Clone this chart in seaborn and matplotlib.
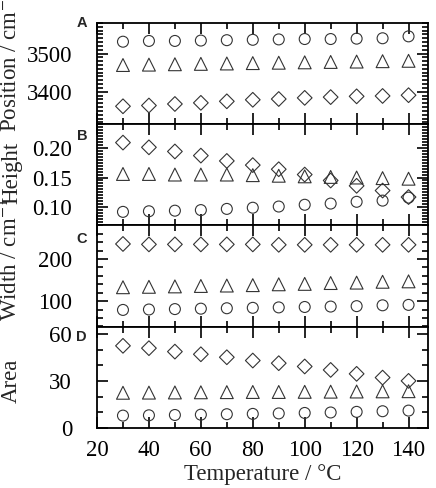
import numpy as np
import pandas as pd
import matplotlib
matplotlib.use("Agg")
import matplotlib.pyplot as plt
import seaborn as sns
from matplotlib.ticker import MultipleLocator

sns.set_theme(style="ticks")
plt.rcParams['font.family'] = ['Liberation Serif', 'DejaVu Serif']
plt.rcParams['mathtext.fontset'] = 'stix'

temperature = [30, 40, 50, 60, 70, 80, 90, 100, 110, 120, 130, 140]

pos_circle = [3531, 3533, 3533, 3534, 3535, 3536, 3537, 3538, 3538, 3539, 3540, 3545]
pos_triangle = [3470, 3471, 3472, 3473, 3474, 3475, 3476, 3477, 3478, 3479, 3480, 3481]
pos_diamond = [3362, 3364, 3368, 3371, 3375, 3379, 3381, 3384, 3386, 3388, 3389, 3391]

height_circle = [0.092, 0.093, 0.094, 0.095, 0.097, 0.099, 0.101, 0.104, 0.106, 0.109, 0.111, 0.116]
height_triangle = [0.156, 0.156, 0.155, 0.155, 0.155, 0.154, 0.153, 0.152, 0.151, 0.150, 0.149, 0.148]
height_diamond = [0.209, 0.201, 0.194, 0.187, 0.178, 0.171, 0.164, 0.155, 0.145, 0.136, 0.128, 0.117]

width_circle = [79, 80, 81, 82, 83, 84, 85, 86, 87, 88, 90, 91]
width_triangle = [133, 134, 135, 136, 137, 138, 140, 141, 143, 144, 146, 147]
width_diamond = [236, 235, 235, 235, 235, 235, 234, 234, 234, 234, 234, 234]

area_circle = [7.9, 8.1, 8.3, 8.5, 8.8, 9.0, 9.3, 9.6, 9.9, 10.3, 10.7, 11.1]
area_triangle = [22.5, 22.6, 22.7, 22.8, 22.9, 23.0, 23.0, 23.1, 23.2, 23.3, 23.4, 23.5]
area_diamond = [52.5, 51.0, 48.8, 47.1, 45.2, 43.1, 41.4, 39.3, 37.1, 34.6, 32.2, 30.1]

panel_letters = ["A", "B", "C", "D"]
y_labels = ["Position / cm$^{-1}$", "Height", "Width / cm$^{-1}$", "Area"]

panels = [
    (pos_circle, pos_triangle, pos_diamond),
    (height_circle, height_triangle, height_diamond),
    (width_circle, width_triangle, width_diamond),
    (area_circle, area_triangle, area_diamond),
]
ylims = [(3315, 3580), (0.069, 0.240), (39, 280), (0, 64.7)]
majors = [100, 0.05, 100, 30]
minors = [10, 0.005, 20, 10]
letter_y = [1.0, 0.88, 0.87, 0.90]
label_y = [0.62, 0.52, 0.66, 0.47]

FS = 16.5

fig, axes = plt.subplots(4, 1, figsize=(4.36, 4.88), dpi=100, sharex=True)
fig.subplots_adjust(left=0.2225, right=0.9817, top=0.9529, bottom=0.123, hspace=0)

for i, ax in enumerate(axes):
    c, t, d = panels[i]
    df = pd.DataFrame({"T": temperature, "c": c, "t": t, "d": d})
    sns.scatterplot(data=df, x="T", y="c", marker="o", s=62, facecolors="none",
                    edgecolor="#333333", linewidth=0.8, ax=ax)
    sns.scatterplot(data=df, x="T", y="t", marker="^", s=86, facecolors="none",
                    edgecolor="#333333", linewidth=0.8, ax=ax)
    sns.scatterplot(data=df, x="T", y="d", marker="D", s=56, facecolors="none",
                    edgecolor="#333333", linewidth=0.8, ax=ax)
    ax.set_xlim(20, 147.5)
    ax.set_ylim(*ylims[i])
    ax.yaxis.set_major_locator(MultipleLocator(majors[i]))
    ax.yaxis.set_minor_locator(MultipleLocator(minors[i]))
    ax.xaxis.set_major_locator(MultipleLocator(20))
    ax.xaxis.set_minor_locator(MultipleLocator(10))
    ax.tick_params(which="both", direction="in", top=True, right=True,
                   width=1.2, colors="black", labelsize=FS)
    ax.tick_params(which="major", length=8)
    ax.tick_params(which="minor", length=4.5)
    ax.tick_params(axis="y", pad=18)
    ax.tick_params(axis="x", pad=9)
    for sp in ax.spines.values():
        sp.set_linewidth(1.3)
        sp.set_color("black")
    ax.set_ylabel(y_labels[i], fontsize=FS)
    ax.yaxis.set_label_coords(-0.226, label_y[i])
    ax.set_xlabel("")
    ax.text(-0.03, letter_y[i], panel_letters[i], transform=ax.transAxes,
            ha="right", va="center", fontsize=10.5, fontweight="bold",
            family=["Liberation Sans", "DejaVu Sans"])
    if i == 1:
        ax.yaxis.set_major_formatter(matplotlib.ticker.FormatStrFormatter("%.2f"))

axes[-1].set_xlabel("Temperature / °C", fontsize=FS, labelpad=2)
fig.savefig("out.png", dpi=100)
